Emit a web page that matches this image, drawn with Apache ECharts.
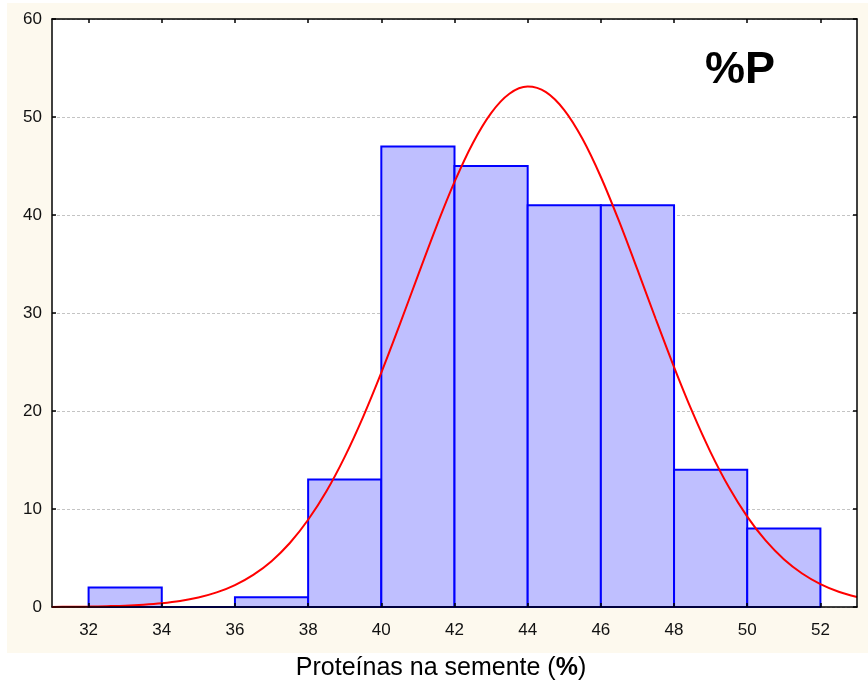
<!DOCTYPE html>
<html>
<head>
<meta charset="utf-8">
<script src="https://cdn.jsdelivr.net/npm/echarts@6/dist/echarts.min.js"></script>
<style>
html,body{margin:0;padding:0;background:#fff;}
#c{width:868px;height:691px;}
</style>
</head>
<body>
<div id="c"></div>
<script>
// Histogram bins (lower edge, upper edge) and counts
var binStart = [32, 34, 36, 38, 40, 42, 44, 46, 48, 50];
var binEnd   = [34, 36, 38, 40, 42, 44, 46, 48, 50, 52];
var counts   = [2, 0, 1, 13, 47, 45, 41, 41, 14, 8];

// Fitted normal curve
var curveX = [31,31.5,32,32.5,33,33.5,34,34.5,35,35.5,36,36.5,37,37.5,38,38.5,39,39.5,40,40.5,41,41.5,42,42.5,43,43.5,44,44.5,45,45.5,46,46.5,47,47.5,48,48.5,49,49.5,50,50.5,51,51.5,52,52.5,53];
var curveY = [0.01,0.02,0.04,0.08,0.13,0.23,0.38,0.61,0.97,1.49,2.24,3.28,4.68,6.53,8.90,11.81,15.32,19.38,23.91,28.78,33.82,38.77,43.37,47.33,50.40,52.37,53.10,52.53,50.70,47.75,43.88,39.34,34.42,29.39,24.48,19.90,15.78,12.21,9.22,6.79,4.88,3.42,2.34,1.56,1.02];

var xTicks = [32, 34, 36, 38, 40, 42, 44, 46, 48, 50, 52];
var yTicks = [0, 10, 20, 30, 40, 50, 60];

var FONT = "'Liberation Sans', Arial, Helvetica, sans-serif";

var barData = binStart.map(function (s, i) { return [s, binEnd[i], counts[i]]; });
var lineData = curveX.map(function (x, i) { return [x, curveY[i]]; });

var chart = echarts.init(document.getElementById('c'), null, {renderer: 'canvas'});
chart.setOption({
  backgroundColor: '#ffffff',
  animation: false,
  textStyle: {fontFamily: FONT},
  title: {
    text: '%P',
    left: 705,
    top: 48,
    padding: 0,
    textStyle: {fontSize: 45, fontWeight: 'bold', color: '#000', fontFamily: FONT}
  },
  graphic: [
    {type: 'rect', z: -10, silent: true, shape: {x: 7, y: 3, width: 861, height: 650}, style: {fill: '#FDF9EE'}},
    {type: 'text', z: 10, x: 441, y: 668, style: {
      text: '{a|Proteínas na semente (}{b|%}{a|)}',
      align: 'center', verticalAlign: 'middle',
      rich: {
        a: {fontSize: 25, fontFamily: FONT, fill: '#000', color: '#000'},
        b: {fontSize: 25, fontFamily: FONT, fontWeight: 'bold', fill: '#000', color: '#000'}
      }
    }}
  ],
  grid: {left: 52, right: 11, top: 19, bottom: 84, show: true, backgroundColor: '#ffffff', borderWidth: 0},
  xAxis: [
    {
      type: 'value', min: 31, max: 53, position: 'bottom', z: 5,
      axisLine: {show: true, onZero: false, lineStyle: {color: '#000', width: 1.5}},
      axisTick: {show: true, inside: true, length: 4, customValues: xTicks, lineStyle: {color: '#000', width: 1.5}},
      axisLabel: {show: true, customValues: xTicks, margin: 15, fontSize: 17, color: '#111', fontFamily: FONT},
      splitLine: {show: false}
    },
    {
      type: 'value', min: 31, max: 53, position: 'top', z: 5,
      axisLine: {show: true, onZero: false, lineStyle: {color: '#000', width: 1.5}},
      axisTick: {show: true, inside: true, length: 4, customValues: xTicks, lineStyle: {color: '#000', width: 1.5}},
      axisLabel: {show: false},
      splitLine: {show: false}
    }
  ],
  yAxis: [
    {
      type: 'value', min: 0, max: 60, interval: 10, position: 'left', z: 0,
      axisLine: {show: true, onZero: false, lineStyle: {color: '#000', width: 1.5}},
      axisTick: {show: true, inside: true, length: 4, lineStyle: {color: '#000', width: 1.5}},
      axisLabel: {show: true, margin: 10, fontSize: 17, color: '#111', fontFamily: FONT},
      splitLine: {show: true, lineStyle: {color: '#c4c4c4', width: 1, type: [3, 2]}}
    },
    {
      type: 'value', min: 0, max: 60, interval: 10, position: 'right', z: 5,
      axisLine: {show: true, onZero: false, lineStyle: {color: '#000', width: 1.5}},
      axisTick: {show: true, inside: true, length: 4, lineStyle: {color: '#000', width: 1.5}},
      axisLabel: {show: false},
      splitLine: {show: false}
    }
  ],
  series: [
    {
      type: 'custom',
      xAxisIndex: 0, yAxisIndex: 0,
      z: 2,
      data: barData,
      renderItem: function (params, api) {
        var p1 = api.coord([api.value(0), api.value(2)]);
        var p2 = api.coord([api.value(1), 0]);
        return {
          type: 'rect',
          shape: {x: p1[0], y: p1[1], width: p2[0] - p1[0], height: p2[1] - p1[1]},
          style: {fill: '#BFBFFF', stroke: '#0000FF', lineWidth: 2}
        };
      }
    },
    {
      type: 'line',
      xAxisIndex: 0, yAxisIndex: 0,
      z: 3,
      data: lineData,
      smooth: 0.3,
      showSymbol: false,
      symbol: 'none',
      lineStyle: {color: '#FF0000', width: 2}
    }
  ]
});
</script>
</body>
</html>
